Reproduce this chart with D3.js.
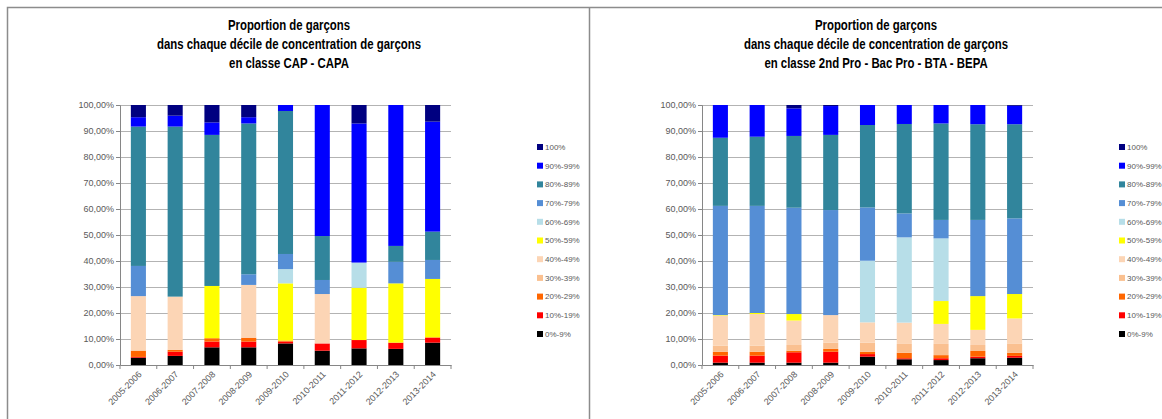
<!DOCTYPE html>
<html>
<head>
<meta charset="utf-8">
<script src="https://cdn.jsdelivr.net/npm/d3@7"></script>
<style>
  body { margin: 0; background: #fff; }
  svg { display: block; }
  .title { font-family: "Liberation Sans", Arial, sans-serif; font-weight: bold; font-size: 15px; fill: #000; }
  .tick text { font-family: "Liberation Sans", Arial, sans-serif; font-size: 9px; fill: #595959; }
  .legend text { font-family: "Liberation Sans", Arial, sans-serif; font-size: 8px; fill: #595959; }
</style>
</head>
<body>
<svg id="chart" width="1162" height="419"></svg>
<script>
// categories
var years = ["2005-2006", "2006-2007", "2007-2008", "2008-2009", "2009-2010",
             "2010-2011", "2011-2012", "2012-2013", "2013-2014"];

// series, bottom to top
var deciles = ["0%-9%", "10%-19%", "20%-29%", "30%-39%", "40%-49%", "50%-59%",
               "60%-69%", "70%-79%", "80%-89%", "90%-99%", "100%"];
var colors = ["#000000", "#ff0000", "#ff6600", "#fac090", "#fcd5b5", "#ffff00",
              "#b7dee8", "#558ed5", "#31859c", "#0000ff", "#000080"];

// CAP - CAPA, one row per year, values per decile (in %)
var capValues = [
  [2.8, 0.3, 2.3, 0.3, 20.8, 0, 0, 11.6, 53.6, 3.6, 4.7],
  [3.5, 1.6, 0.7, 0.2, 20.3, 0, 0, 0, 65.4, 4.2, 4.1],
  [6.8, 2.2, 1.3, 0, 0, 20.1, 0, 0, 58.1, 4.8, 6.7],
  [6.8, 2.2, 1.5, 0, 20.3, 0, 0, 4.1, 58.0, 2.4, 4.7],
  [8.3, 0.7, 0.4, 0, 0, 22.0, 5.5, 5.8, 55.0, 2.3, 0],
  [5.5, 2.8, 0, 0, 19.0, 0, 0, 5.4, 16.9, 50.4, 0],
  [6.4, 3.2, 0, 0, 0, 20.1, 9.7, 0, 0, 53.5, 7.1],
  [6.2, 2.4, 0, 0, 0, 22.8, 0, 8.3, 6.1, 54.2, 0],
  [8.6, 2.0, 0, 0, 0, 22.5, 0, 7.3, 10.9, 42.3, 6.4]
];

// 2nd Pro - Bac Pro - BTA - BEPA
var proValues = [
  [0.9, 2.7, 1.5, 2.3, 11.6, 0.2, 0, 42.0, 26.2, 12.6, 0],
  [0.9, 2.7, 1.5, 2.3, 12.2, 0.4, 0, 41.2, 26.6, 12.2, 0],
  [0.9, 4.0, 0.6, 2.2, 9.4, 2.5, 0, 40.9, 27.6, 10.6, 1.3],
  [0.9, 4.2, 1.1, 2.4, 10.6, 0, 0, 40.4, 28.9, 11.1, 0.4],
  [3.2, 1.0, 0.9, 3.5, 7.8, 0, 23.7, 20.5, 31.7, 7.7, 0],
  [2.2, 0.4, 2.1, 3.4, 8.2, 0, 32.8, 9.2, 34.4, 7.3, 0],
  [1.9, 0.7, 1.2, 4.3, 7.7, 8.8, 24.1, 7.1, 37.1, 7.1, 0],
  [2.6, 0.6, 2.2, 2.3, 5.8, 13.0, 0, 29.3, 36.8, 7.4, 0],
  [2.8, 0.7, 1.2, 3.6, 9.6, 9.4, 0, 29.1, 36.2, 7.1, 0.3]
];

var yTicks = [0, 10, 20, 30, 40, 50, 60, 70, 80, 90, 100];

var svg = d3.select("#chart");

// panel frame
svg.append("path")
    .attr("d", "M7.5,419 V7.5 H1162 M589.5,7.5 V419")
    .attr("fill", "none")
    .attr("stroke", "#8c8c8c")
    .attr("stroke-width", 1.5);

function drawPanel(opts) {
  var g = svg.append("g");

  // title (narrowed to look like the original condensed face)
  g.append("text")
      .attr("class", "title")
      .attr("text-anchor", "middle")
      .attr("transform", "translate(" + opts.cx + ",0) scale(0.76,1)")
      .selectAll("tspan")
      .data(opts.title)
    .enter().append("tspan")
      .attr("x", 0)
      .attr("y", function(d, i) { return 30 + i * 19; })
      .text(function(d) { return d; });

  var x = d3.scaleBand()
      .domain(years)
      .range([opts.left, opts.right])
      .paddingInner(0.59)
      .paddingOuter(0.295);

  var y = d3.scaleLinear()
      .domain([0, 100])
      .range([365, 105]);

  // gridlines
  g.append("g")
      .selectAll("line")
      .data(yTicks.slice(1))
    .enter().append("line")
      .attr("x1", opts.left)
      .attr("x2", opts.right)
      .attr("y1", function(d) { return y(d) + 0.5; })
      .attr("y2", function(d) { return y(d) + 0.5; })
      .attr("stroke", "#b3b3b3")
      .attr("stroke-width", 1);

  // stacked bars
  var rows = opts.values.map(function(v, i) {
    var o = {year: years[i]};
    deciles.forEach(function(k, j) { o[k] = v[j]; });
    return o;
  });
  var series = d3.stack().keys(deciles)(rows);

  g.append("g")
      .selectAll("g")
      .data(series)
    .enter().append("g")
      .attr("fill", function(d, i) { return colors[i]; })
      .selectAll("rect")
      .data(function(d) { return d; })
    .enter().append("rect")
      .attr("x", function(d) { return x(d.data.year); })
      .attr("width", x.bandwidth())
      .attr("y", function(d) { return y(d[1]); })
      .attr("height", function(d) { return y(d[0]) - y(d[1]); });

  // y axis
  var yAxis = g.append("g")
      .attr("transform", "translate(" + opts.left + ",0)")
      .call(d3.axisLeft(y)
        .tickValues(yTicks)
        .tickSize(4)
        .tickFormat(function(d) { return d3.format(".2f")(d).replace(".", ",") + "%"; }));
  yAxis.select(".domain").attr("stroke", "#868686");
  yAxis.selectAll(".tick line").attr("stroke", "#868686");
  yAxis.selectAll(".tick text").attr("x", -6);

  // x axis
  var xAxis = g.append("g")
      .attr("transform", "translate(0,365)")
      .call(d3.axisBottom(x).tickSize(0));
  xAxis.select(".domain").attr("stroke", "#868686");
  xAxis.selectAll(".tick text")
      .style("text-anchor", "end")
      .attr("dy", 0)
      .attr("y", 0)
      .attr("transform", "translate(4,10) rotate(-45)");
  // separators between categories
  xAxis.append("g")
      .selectAll("line")
      .data(years.map(function(d, i) { return i; }).concat([years.length]))
    .enter().append("line")
      .attr("x1", function(i) { return opts.left + i * x.step(); })
      .attr("x2", function(i) { return opts.left + i * x.step(); })
      .attr("y1", 0)
      .attr("y2", 4)
      .attr("stroke", "#868686");

  // legend
  var legend = g.append("g")
      .attr("class", "legend")
      .selectAll("g")
      .data(deciles.slice().reverse())
    .enter().append("g")
      .attr("transform", function(d, i) { return "translate(" + opts.legendX + "," + (147 + i * 18.7) + ")"; });
  legend.append("rect")
      .attr("x", 0)
      .attr("y", -3)
      .attr("width", 6)
      .attr("height", 6)
      .attr("fill", function(d) { return colors[deciles.indexOf(d)]; });
  legend.append("text")
      .attr("x", 8)
      .attr("dy", "0.35em")
      .text(function(d) { return d; });
}

drawPanel({
  title: ["Proportion de garçons", "dans chaque décile de concentration de garçons", "en classe CAP - CAPA"],
  cx: 289, left: 120, right: 451, legendX: 537, values: capValues
});

drawPanel({
  title: ["Proportion de garçons", "dans chaque décile de concentration de garçons", "en classe 2nd Pro - Bac Pro - BTA - BEPA"],
  cx: 876, left: 702, right: 1033, legendX: 1119, values: proValues
});
</script>
</body>
</html>
